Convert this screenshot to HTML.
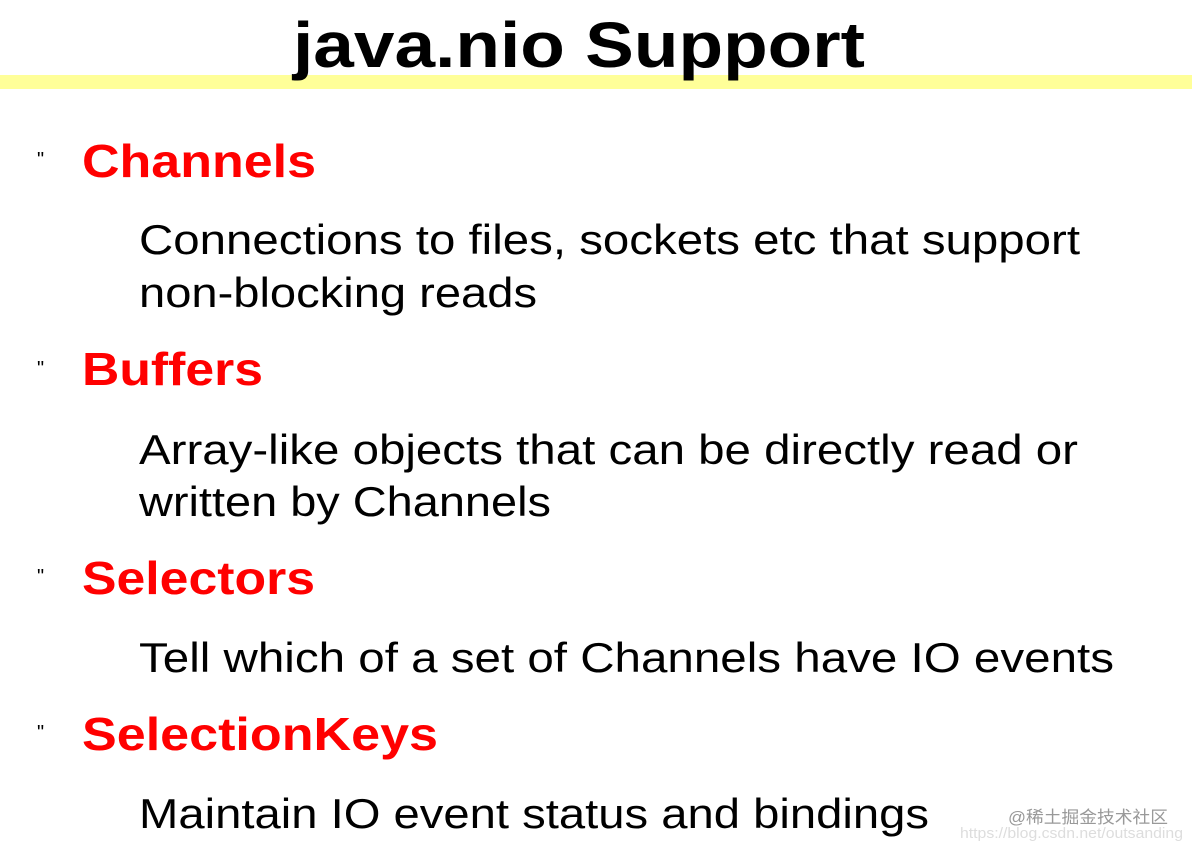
<!DOCTYPE html>
<html><head><meta charset="utf-8"><style>
html,body{margin:0;padding:0;background:#fff;width:1192px;height:850px;overflow:hidden}
</style></head><body>
<svg width="1192" height="850" xmlns="http://www.w3.org/2000/svg" font-family="'Liberation Sans', sans-serif">
<rect width="1192" height="850" fill="#fff"/>
<rect x="0" y="75" width="1192" height="14" fill="#ffff99"/>
<text x="293" y="67" font-size="64" font-weight="bold" fill="#000" textLength="572" lengthAdjust="spacingAndGlyphs">java.nio Support</text>
<g font-size="20" fill="#000">
<text x="37" y="166">"</text>
<text x="37" y="375">"</text>
<text x="37" y="583">"</text>
<text x="37" y="739">"</text>
</g>
<g font-size="46" font-weight="bold" fill="#ff0000">
<text x="82" y="177" textLength="234" lengthAdjust="spacingAndGlyphs">Channels</text>
<text x="82" y="385" textLength="181" lengthAdjust="spacingAndGlyphs">Buffers</text>
<text x="82" y="594" textLength="233" lengthAdjust="spacingAndGlyphs">Selectors</text>
<text x="82" y="750" textLength="356" lengthAdjust="spacingAndGlyphs">SelectionKeys</text>
</g>
<g font-size="42" fill="#000">
<text x="139" y="254" textLength="941" lengthAdjust="spacingAndGlyphs">Connections to files, sockets etc that support</text>
<text x="139" y="307" textLength="398" lengthAdjust="spacingAndGlyphs">non-blocking reads</text>
<text x="139" y="464" textLength="939" lengthAdjust="spacingAndGlyphs">Array-like objects that can be directly read or</text>
<text x="139" y="516" textLength="412" lengthAdjust="spacingAndGlyphs">written by Channels</text>
<text x="139" y="672" textLength="975" lengthAdjust="spacingAndGlyphs">Tell which of a set of Channels have IO events</text>
<text x="139" y="828" textLength="790" lengthAdjust="spacingAndGlyphs">Maintain IO event status and bindings</text>
</g>
<text x="1008" y="823" font-size="17" fill="#999" font-family="'Liberation Sans','Noto Sans CJK SC',sans-serif" textLength="160" lengthAdjust="spacingAndGlyphs">@稀土掘金技术社区</text>
<text x="960" y="838" font-size="15" fill="#ddd" textLength="223" lengthAdjust="spacingAndGlyphs">https://blog.csdn.net/outsanding</text>
</svg>
</body></html>
